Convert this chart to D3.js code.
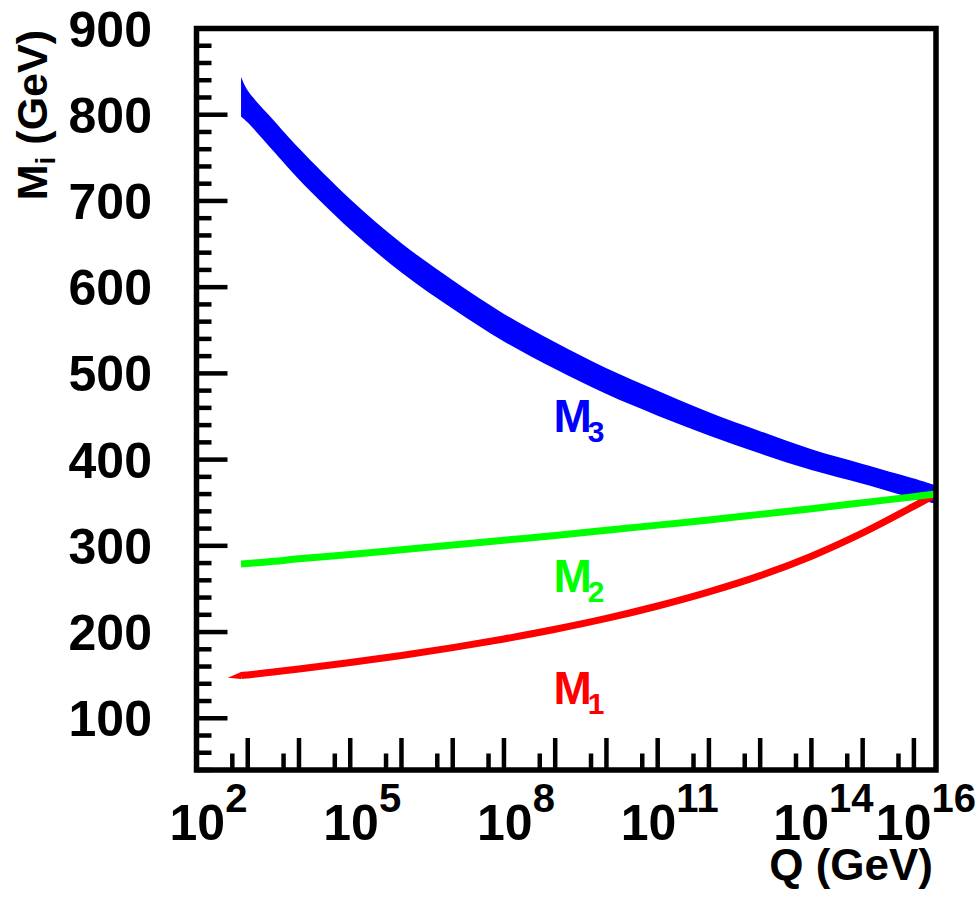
<!DOCTYPE html>
<html>
<head>
<meta charset="utf-8">
<script src="https://cdn.jsdelivr.net/npm/d3@7"></script>
<style>
  html, body { margin: 0; padding: 0; background: #ffffff; }
  svg { display: block; }
</style>
</head>
<body>
<svg id="chart" width="978" height="898"></svg>
<script>
// Renormalisation-group running of the gaugino masses M1, M2, M3 with scale Q.

// Scale points (GeV) shared by the M3 band and the M2 line
const qGrid = [740, 1e3, 3.16e3, 1e4, 1e5, 1e6, 1e7, 1e8, 1e9, 1e10, 1e11, 1e12, 1e13, 1e14, 1e15, 1e16, 2.7e16];
// M3 uncertainty band (GeV)
const m3Upper = [844, 828, 794, 761, 702, 651, 608, 569, 536, 506, 480, 455, 433, 412, 395, 378, 370];
const m3Lower = [798, 791, 758, 725, 667, 617, 575, 537, 505, 476, 451, 428, 407, 388, 372, 355, 349];
// M2 (GeV)
const m2Values = [279, 279.5, 282, 285, 290, 295.5, 301, 306.5, 312, 318, 324, 330, 336.5, 343, 350, 357, 360];
// M1 starts at a lower scale
const m1Q = [410, 740, 1e3, 3.16e3, 1e4, 1e5, 1e6, 1e7, 1e8, 1e9, 1e10, 1e11, 1e12, 1e13, 1e14, 1e15, 1e16, 2.7e16];
const m1Values = [147, 149.5, 150.3, 153.7, 157.2, 164.6, 172.8, 181.9, 192, 203.2, 215.8, 230.2, 246.6, 265.4, 288, 315, 346, 360];

// Axes
const xDomain = [1e2, 2.7e16];
const yDomain = [40, 900];
const xMajorExponents = [2, 3, 4, 5, 6, 7, 8, 9, 10, 11, 12, 13, 14, 15, 16];
const xMinorTicks = [5e2, 5e3, 5e4, 5e5, 5e6, 5e7, 5e8, 5e9, 5e10, 5e11, 5e12, 5e13, 5e14, 5e15];
const xLabelExponents = [2, 5, 8, 11, 14, 16];
const yMajorTicks = [100, 200, 300, 400, 500, 600, 700, 800, 900];
const yMinorStep = 20;

// Curve labels
const curveLabels = [
  { base: "M", sub: "3", value: 432, color: "#0000ff" },
  { base: "M", sub: "2", value: 247, color: "#00ff00" },
  { base: "M", sub: "1", value: 116, color: "#ff0000" }
];

const FONT = "'Liberation Sans', Arial, Helvetica, sans-serif";
const svg = d3.select("#chart");

const frame = { left: 196.5, right: 936, top: 28.5, bottom: 770 };
const x = d3.scaleLog().domain(xDomain).range([frame.left, frame.right]);
const y = d3.scaleLinear().domain(yDomain).range([frame.bottom, frame.top]);
const smooth = d3.curveCatmullRom.alpha(0.5);

const plot = svg.append("g");

// M3 band
const band = qGrid.map((q, i) => ({ q, hi: m3Upper[i], lo: m3Lower[i] }));
plot.append("path")
  .datum(band)
  .attr("fill", "#0000ff")
  .attr("d", d3.area()
    .x(d => x(d.q))
    .y0(d => y(d.lo))
    .y1(d => y(d.hi))
    .curve(smooth));

// M1 line with a tapered start
const m1 = m1Q.map((q, i) => ({ q, v: m1Values[i] }));
const lineW = 7;
const m1Line = d3.line().x(d => x(d.q)).y(d => y(d.v)).curve(smooth);
plot.append("path")
  .datum(m1.slice(1))
  .attr("fill", "none")
  .attr("stroke", "#ff0000")
  .attr("stroke-width", lineW)
  .attr("stroke-linecap", "butt")
  .attr("d", m1Line);
{
  const p0 = [x(m1[0].q), y(m1[0].v)];
  const p1 = [x(m1[1].q), y(m1[1].v)];
  plot.append("path")
    .attr("fill", "#ff0000")
    .attr("d", `M${p0[0]},${p0[1]}L${p1[0]},${p1[1] - lineW / 2}L${p1[0]},${p1[1] + lineW / 2}Z`);
}

// M2 line
const m2 = qGrid.map((q, i) => ({ q, v: m2Values[i] }));
plot.append("path")
  .datum(m2)
  .attr("fill", "none")
  .attr("stroke", "#00ff00")
  .attr("stroke-width", lineW)
  .attr("stroke-linecap", "butt")
  .attr("d", d3.line().x(d => x(d.q)).y(d => y(d.v)).curve(smooth));

// Ticks (inside the frame)
const ticks = svg.append("g").attr("stroke", "#000").attr("stroke-width", 4.5);
xMajorExponents.forEach(e => {
  const px = x(Math.pow(10, e));
  ticks.append("line").attr("x1", px).attr("x2", px).attr("y1", frame.bottom).attr("y2", frame.bottom - 32);
});
xMinorTicks.forEach(v => {
  const px = x(v);
  ticks.append("line").attr("x1", px).attr("x2", px).attr("y1", frame.bottom).attr("y2", frame.bottom - 16.5);
});
for (let v = yDomain[0]; v <= yDomain[1]; v += yMinorStep) {
  const py = y(v);
  const major = yMajorTicks.includes(v);
  ticks.append("line").attr("x1", frame.left).attr("x2", frame.left + (major ? 31 : 15))
    .attr("y1", py).attr("y2", py);
}

// Frame
svg.append("rect")
  .attr("x", frame.left).attr("y", frame.top)
  .attr("width", frame.right - frame.left).attr("height", frame.bottom - frame.top)
  .attr("fill", "none").attr("stroke", "#000").attr("stroke-width", 5.5);

// Y tick labels
svg.append("g").selectAll("text")
  .data(yMajorTicks)
  .join("text")
  .attr("x", 152)
  .attr("y", d => y(d) + 18)
  .attr("text-anchor", "end")
  .attr("font-family", FONT).attr("font-weight", "bold").attr("font-size", 50)
  .text(d => d);

// X tick labels: 10^n
const xl = svg.append("g");
xLabelExponents.forEach(e => {
  const t = xl.append("text")
    .attr("x", x(Math.pow(10, e)) + 12)
    .attr("y", 840)
    .attr("text-anchor", "middle")
    .attr("font-family", FONT).attr("font-weight", "bold");
  t.append("tspan").attr("font-size", 50).text("10");
  t.append("tspan").attr("font-size", 40).attr("dy", -28).text(e);
});

// Axis titles
svg.append("text")
  .attr("x", 933).attr("y", 880)
  .attr("text-anchor", "end")
  .attr("font-family", FONT).attr("font-weight", "bold").attr("font-size", 44)
  .text("Q (GeV)");

const yt = svg.append("text")
  .attr("transform", "translate(47,30) rotate(-90)")
  .attr("text-anchor", "end")
  .attr("font-family", FONT).attr("font-weight", "bold").attr("font-size", 43);
yt.append("tspan").text("M");
yt.append("tspan").attr("font-size", 28).attr("dy", 8).text("i");
yt.append("tspan").attr("dy", -8).text(" (GeV)");

// Curve labels
curveLabels.forEach(l => {
  const t = svg.append("text")
    .attr("x", 553.5)
    .attr("y", y(l.value))
    .attr("fill", l.color)
    .attr("font-family", FONT).attr("font-weight", "bold").attr("font-size", 46);
  t.append("tspan").text(l.base);
  t.append("tspan").attr("font-size", 30).attr("dy", 10).attr("dx", -4).text(l.sub);
});
</script>
</body>
</html>
